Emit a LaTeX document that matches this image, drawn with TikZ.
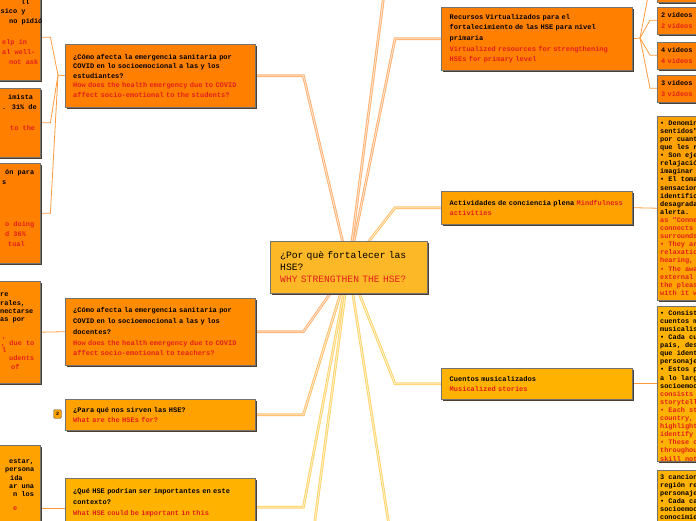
\documentclass[tikz,border=0pt]{standalone}
\usepackage{fontspec}
\newfontfamily\mono{Liberation Mono}
\usetikzlibrary{shadows,calc}
\pgfdeclarelayer{bg}
\pgfsetlayers{bg,main}
\definecolor{o1}{HTML}{FF7F00}
\definecolor{o2}{HTML}{FF8C00}
\definecolor{o3}{HTML}{FFA200}
\definecolor{o4}{HTML}{FFB300}
\definecolor{cen}{HTML}{FDB827}
\definecolor{hred}{HTML}{E3201C}
\definecolor{shd}{HTML}{4E3E2E}
\definecolor{lk}{HTML}{FF9A3C}
\definecolor{bA}{HTML}{FFB070}
\definecolor{bB}{HTML}{FFC068}
\definecolor{bY}{HTML}{FFD468}
\newcommand\rt[1]{{\color{hred}#1}}
\tikzset{
 bx/.style={draw=black!55, line width=0.4pt, anchor=north west, inner ysep=0pt, align=left,
   drop shadow={shadow xshift=1.8pt, shadow yshift=-1.8pt, fill=shd, opacity=1}},
 sm/.style={font=\mono\bfseries\fontsize{7}{#1}\selectfont},
 sm/.default=10.4,
 mainbox/.style={bx, minimum width=190pt, text width=174pt, inner xsep=8pt},
 nt/.style={font=\mono\bfseries\fontsize{6.9}{8.1}\selectfont, align=left, inner sep=0pt, anchor=north west},
 fr/.style={font=\mono\bfseries\fontsize{6.9}{10}\selectfont, inner sep=0pt, anchor=base west},
 br/.style={line width=0.9pt, draw=#1, double=#1!35!white, double distance=0.9pt},
 lnk/.style={draw=lk, line width=0.8pt},
}
\begin{document}
\begin{tikzpicture}[x=1pt,y=-1pt]
\useasboundingbox (0,0) rectangle (696,520);
\clip (0,0) rectangle (696,520);

% central
\node[bx, fill=cen, minimum width=157pt, minimum height=52pt, text width=137pt, inner xsep=10pt,
  font=\mono\fontsize{9.7}{11.8}\selectfont] (c) at (270,241)
  {¿Por què fortalecer las\\HSE?\\\rt{WHY STRENGTHEN THE HSE?}};

% left main nodes
\node[mainbox, sm=9.6, fill=o1, minimum height=63pt] (n1) at (65,44)
  {¿Cómo afecta la emergencia sanitaria por\\COVID en lo socioemocional a las y los\\estudiantes?\\\rt{\mbox{How does the health emergency due to COVID}}\\\rt{affect socio-emotional to the students?}};
\node[mainbox, sm=10.8, fill=o2, minimum height=67pt] (n2) at (65,298)
  {¿Cómo afecta la emergencia sanitaria por\\COVID en lo socioemocional a las y los\\docentes?\\\rt{\mbox{How does the health emergency due to COVID}}\\\rt{affect socio-emotional to teachers?}};
\node[mainbox, sm=9.6, fill=o3, minimum height=31pt] (n3) at (65,399)
  {¿Para qué nos sirven las HSE?\\\rt{What are the HSEs for?}};
\node[mainbox, sm=10.8, fill=o4, minimum height=58pt] (n4) at (65,478)
  {¿Qué HSE podrían ser importantes en este\\contexto?\\\rt{What HSE could be important in this}\\\mbox{}};
\node[draw=black!60, fill=o3, rounded corners=1.5pt, minimum width=8pt, minimum height=9pt, inner sep=0pt,
  font=\mono\bfseries\fontsize{5}{5}\selectfont] (bd) at (57.5,414) {2};

% right main nodes
\node[mainbox, minimum width=191pt, sm=10.6, fill=o1, minimum height=63pt] (r1) at (441,7)
  {Recursos Virtualizados para el\\fortalecimiento de las HSE para nivel\\primaria\\\rt{Virtualized resources for strengthening}\\\rt{HSEs for primary level}};
\node[mainbox, minimum width=191pt, sm=10.2, fill=o3, minimum height=33pt] (r2) at (441,191)
  {Actividades de conciencia plena \rt{Mindfulness}\\\rt{activities}};
\node[mainbox, minimum width=191pt, sm=10.3, fill=o4, minimum height=31pt] (r3) at (441,368)
  {Cuentos musicalizados\\\rt{Musicalized stories}};

% video boxes
\node[bx, fill=o1, minimum width=70pt, minimum height=32pt] (v0) at (657,-30) {};
\node[bx, fill=o1, minimum width=70pt, minimum height=27pt, text width=62pt, inner xsep=4pt,
  font=\mono\bfseries\fontsize{6.9}{11}\selectfont] (v1) at (657,6.5) {2 videos\\\rt{2 videos}};
\node[bx, fill=o1, minimum width=70pt, minimum height=27pt, text width=62pt, inner xsep=4pt,
  font=\mono\bfseries\fontsize{6.9}{11}\selectfont] (v2) at (657,41.5) {4 videos\\\rt{4 videos}};
\node[bx, fill=o1, minimum width=70pt, minimum height=27pt, text width=62pt, inner xsep=4pt,
  font=\mono\bfseries\fontsize{6.9}{11}\selectfont] (v3) at (657,74.5) {3 videos\\\rt{3 videos}};

% far right note boxes
\node[bx, fill=o3, minimum width=90pt, minimum height=184pt] (f1) at (657,116) {};
\node[nt] (f1t) at (660,120) {• Denomin\\sentidos"\\por cuant\\que les r\\• Son eje\\relajació\\imaginar\\• El toma\\sensacion\\identific\\desagrada\\alerta.\\
\rt{as "Conne}\\\rt{connects}\\\rt{surrounds}\\\rt{• They ar}\\\rt{relaxatio}\\\rt{hearing,}\\\rt{• The awa}\\\rt{external}\\\rt{the pleas}\\\rt{with it w}};
\node[bx, fill=o4, minimum width=90pt, minimum height=155pt] (f2) at (657,306) {};
\node[nt] (f2t) at (660,310) {• Consist\\cuentos m\\musicalis\\• Cada cu\\país, des\\que ident\\personaje\\• Estos p\\a lo larg\\socioemoc\\
\rt{consists}\\\rt{storytell}\\\rt{• Each st}\\\rt{country,}\\\rt{highlight}\\\rt{identify}\\\rt{• These c}\\\rt{throughou}\\\rt{skill not}};
\node[bx, fill=o4, minimum width=90pt, minimum height=100pt] (f3) at (657,470) {};
\node[nt] (f3t) at (660,474) {3 cancion\\región re\\personaje\\• Cada ca\\socioemoc\\conocimie};

% far left note boxes
\node[bx, fill=o1, minimum width=140pt, minimum height=86pt] (a1) at (-100,-6) {};
\node[bx, fill=o1, minimum width=140pt, minimum height=69pt] (a2) at (-100,88) {};
\node[bx, fill=o1, minimum width=140pt, minimum height=100pt] (a3) at (-100,163) {};
\node[bx, fill=o2, minimum width=140pt, minimum height=102pt] (a4) at (-100,281) {};
\node[bx, fill=o3, minimum width=140pt, minimum height=126pt] (a5) at (-100,445) {};

\node[fr] (t11) at (21,4.5) {ll};
\node[fr] (t12) at (0.5,13) {sico y};
\node[fr] (t13) at (9,23) {no pidió};
\node[fr] (t14) at (2,44) {\rt{elp in}};
\node[fr] (t15) at (2,54) {\rt{al well-}};
\node[fr] (t16) at (9,64) {\rt{not ask}};
\node[fr] (t21) at (8,99) {imista};
\node[fr] (t22) at (2,109) {. 31\% de};
\node[fr] (t23) at (10,130) {\rt{to the}};
\node[fr] (t31) at (5,174) {ón para};
\node[fr] (t32) at (2,184) {s};
\node[fr] (t34) at (5,226) {\rt{o doing}};
\node[fr] (t35) at (5,236) {\rt{d 36\%}};
\node[fr] (t36) at (8,246) {\rt{tual}};
\node[fr] (t41) at (0,296) {re};
\node[fr] (t42) at (0,305) {rales,};
\node[fr] (t43) at (0,313) {nectarse};
\node[fr] (t44) at (0,321) {as por};
\node[fr] (t45) at (2,338) {\rt{,}};
\node[fr] (t46) at (1,345) {\rt{, due to}};
\node[fr] (t47) at (2,352) {\rt{l}};
\node[fr] (t48) at (9,360) {\rt{udents}};
\node[fr] (t49) at (11,369) {\rt{of}};
\node[fr] (t51) at (9,463) {estar,};
\node[fr] (t52) at (5,471) {persona};
\node[fr] (t53) at (10,480) {ida};
\node[fr] (t54) at (9,488) {ar una};
\node[fr] (t55) at (13,496) {n los};
\node[fr] (t56) at (13,510) {\rt{e}};

% elbows of branches leaving the view
\coordinate (u1) at (395,-91);
\coordinate (d1) at (303,610);
\coordinate (d2) at (395,564);
\coordinate (jl) at (58,75);
\coordinate (jr) at (640,38);

\begin{pgfonlayer}{bg}
\draw[br=bA] (n1.east) -- ++(48,0) -- (c.center);
\draw[br=bA] (n2.east) -- ++(48,0) -- (c.center);
\draw[br=bB] (n3.east) -- ++(48,0) -- (c.center);
\draw[br=bY] (n4.east) -- ++(48,0) -- (c.center);
\draw[br=bY] (d1) -- (c.center);
\draw[br=bA] (r1.west) -- ++(-46,0) -- (c.center);
\draw[br=bA] (u1) -- (c.center);
\draw[br=bB] (r2.west) -- ++(-46,0) -- (c.center);
\draw[br=bY] (r3.west) -- ++(-46,0) -- (c.center);
\draw[br=bY] (d2) -- (c.center);

\draw[lnk] (a1.east) -- ++(10,0) -- (jl) -- (n1.west);
\draw[lnk] (a2.east) -- ++(10,0) -- (jl);
\draw[lnk] (a3.east) -- ++(10,0) -- (jl);
\draw[lnk] (a4.east) -- (n2.west);
\draw[lnk] (a5.east) -- (n4.west |- a5.east);
\draw[lnk] (r1.east) -- (jr);
\draw[lnk] (jr) -- ($(v0.west)+(-7,0)$) -- (v0.west);
\draw[lnk] (jr) -- ($(v1.west)+(-7,0)$) -- (v1.west);
\draw[lnk] (jr) -- ($(v2.west)+(-7,0)$) -- (v2.west);
\draw[lnk] (jr) -- ($(v3.west)+(-7,0)$) -- (v3.west);
\draw[lnk] (r2.east) -- (f1.west);
\draw[lnk] (r3.east) -- (f2.west);
\end{pgfonlayer}
\end{tikzpicture}
\end{document}
